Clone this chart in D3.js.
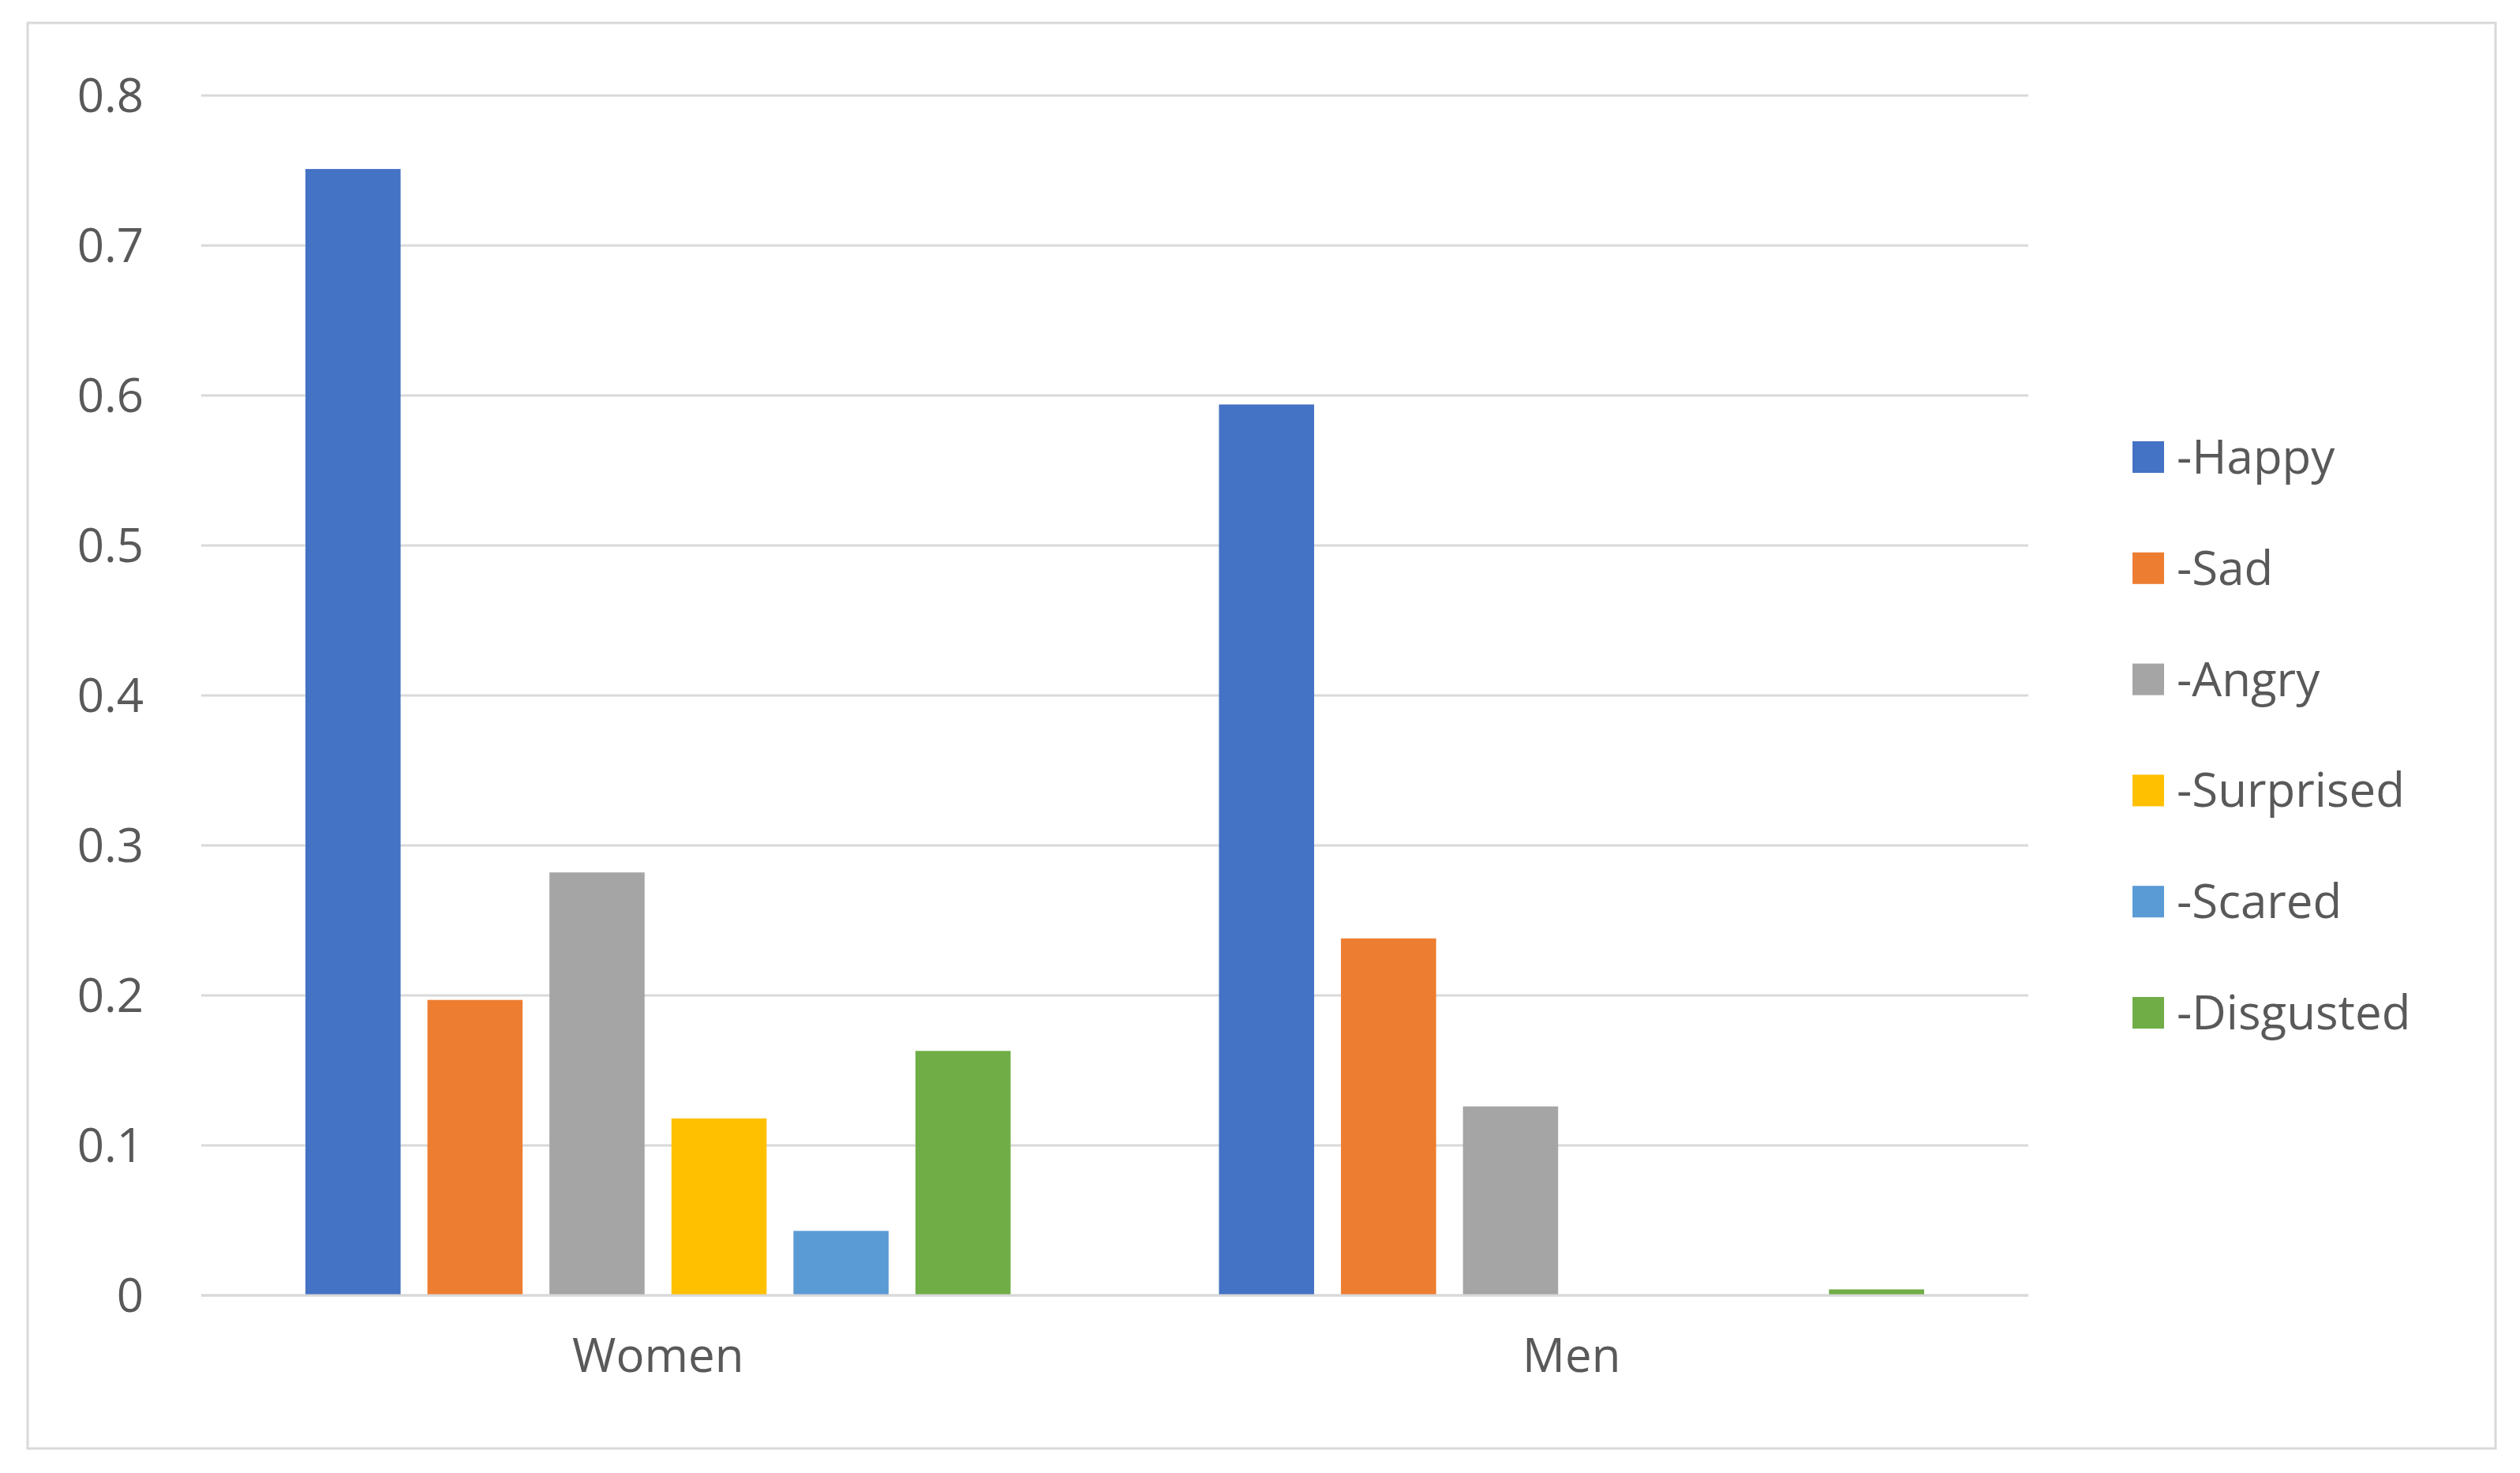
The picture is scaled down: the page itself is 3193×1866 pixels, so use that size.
<!DOCTYPE html>
<html>
<head>
  <meta charset="UTF-8">
  <script src="https://cdn.jsdelivr.net/npm/d3@7"></script>
  <style>
    body { margin: 0; background: #fff; }
    text { font-family: "Open Sans", "Noto Sans", sans-serif; fill: #595959; }
  </style>
</head>
<body>
<svg id="chart" width="3193" height="1866"></svg>
<script>
var groups = ["Women", "Men"];
var series = ["-Happy", "-Sad", "-Angry", "-Surprised", "-Scared", "-Disgusted"];
var colors = ["#4472C4", "#ED7D31", "#A5A5A5", "#FFC000", "#5B9BD5", "#70AD47"];
var women = [0.751, 0.197, 0.282, 0.118, 0.043, 0.163];
var men = [0.594, 0.238, 0.126, 0, 0, 0.004];
var yTicks = [0, 0.1, 0.2, 0.3, 0.4, 0.5, 0.6, 0.7, 0.8];

var values = { "Women": women, "Men": men };
var svg = d3.select("#chart");

svg.append("rect").attr("x", 35).attr("y", 29).attr("width", 3127).attr("height", 1806)
  .attr("fill", "#fff").attr("stroke", "#d9d9d9").attr("stroke-width", 3);

var plotLeft = 255, plotRight = 2570, plotTop = 121, plotBottom = 1641;
var y = d3.scaleLinear().domain([0, 0.8]).range([plotBottom, plotTop]);
var x0 = d3.scaleBand().domain(groups).range([plotLeft, plotRight]);
var x1 = d3.scaleBand().domain(series)
  .range([132, x0.bandwidth() - 132]).paddingInner(0.22);

// gridlines
svg.selectAll("line.grid").data(yTicks).enter().append("line")
  .attr("x1", plotLeft).attr("x2", plotRight)
  .attr("y1", function(d) { return y(d); }).attr("y2", function(d) { return y(d); })
  .attr("stroke", "#d9d9d9").attr("stroke-width", 3);

svg.selectAll("text.ytick").data(yTicks).enter().append("text")
  .attr("x", 182).attr("y", function(d) { return y(d); })
  .attr("dy", "0.35em").attr("text-anchor", "end")
  .attr("font-size", 60)
  .text(function(d) { return d === 0 ? "0" : d3.format(".1f")(d); });

// bars
groups.forEach(function(g) {
  var gEl = svg.append("g").attr("transform", "translate(" + x0(g) + ",0)");
  series.forEach(function(s, i) {
    var v = values[g][i];
    if (v <= 0) return;
    gEl.append("rect")
      .attr("x", x1(s)).attr("width", x1.bandwidth())
      .attr("y", y(v)).attr("height", y(0) - y(v))
      .attr("fill", colors[i]);
  });
  svg.append("text")
    .attr("x", x0(g) + x0.bandwidth() / 2).attr("y", 1738)
    .attr("text-anchor", "middle").attr("font-size", 60)
    .text(g);
});

// baseline over bars
svg.append("line").attr("x1", plotLeft).attr("x2", plotRight)
  .attr("y1", y(0)).attr("y2", y(0))
  .attr("stroke", "#d9d9d9").attr("stroke-width", 3);

// legend
var legendY = d3.scalePoint().domain(series).range([579, 1283]);
series.forEach(function(s, i) {
  svg.append("rect").attr("x", 2702).attr("y", legendY(s) - 20)
    .attr("width", 40).attr("height", 40).attr("fill", colors[i]);
  svg.append("text").attr("x", 2758).attr("y", legendY(s))
    .attr("dy", "0.35em").attr("font-size", 60).text(s);
});
</script>
</body>
</html>
